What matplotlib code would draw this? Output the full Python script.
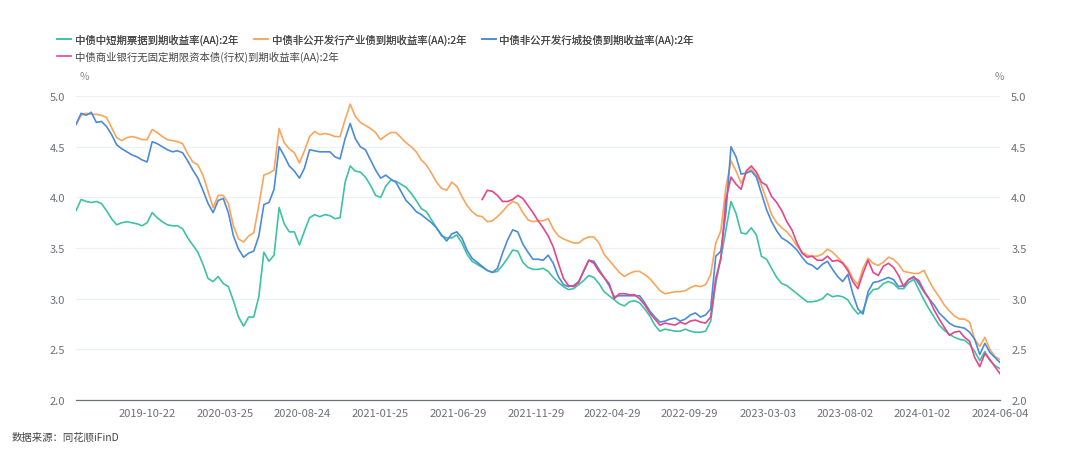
import matplotlib
matplotlib.use('Agg')
import matplotlib.pyplot as plt
import pandas as pd

plt.rcParams['font.family'] = ['Noto Sans CJK SC', 'DejaVu Sans']

# 日期（约10天一个点）
dates = pd.date_range('2019-06-04', '2024-06-04', periods=183)

names = ['中债中短期票据到期收益率(AA):2年',
         '中债非公开发行产业债到期收益率(AA):2年',
         '中债非公开发行城投债到期收益率(AA):2年',
         '中债商业银行无固定期限资本债(行权)到期收益率(AA):2年']

teal = [3.87, 3.98, 3.96, 3.95, 3.96, 3.94, 3.87, 3.79, 3.73, 3.75,
        3.76, 3.75, 3.74, 3.72, 3.75, 3.85, 3.80, 3.76, 3.73, 3.72,
        3.72, 3.69, 3.60, 3.53, 3.46, 3.34, 3.20, 3.17, 3.22, 3.15,
        3.12, 2.98, 2.82, 2.73, 2.82, 2.82, 3.02, 3.46, 3.37, 3.43,
        3.90, 3.74, 3.66, 3.66, 3.53, 3.67, 3.80, 3.83, 3.81, 3.83,
        3.82, 3.79, 3.80, 4.15, 4.31, 4.26, 4.25, 4.20, 4.12, 4.02,
        4.00, 4.11, 4.17, 4.16, 4.13, 4.10, 4.04, 3.97, 3.89, 3.86,
        3.78, 3.70, 3.62, 3.60, 3.60, 3.63, 3.55, 3.44, 3.37, 3.34,
        3.31, 3.28, 3.26, 3.27, 3.33, 3.40, 3.48, 3.47, 3.36, 3.31,
        3.29, 3.29, 3.30, 3.27, 3.21, 3.16, 3.12, 3.09, 3.10, 3.14,
        3.18, 3.23, 3.21, 3.15, 3.07, 3.03, 2.99, 2.95, 2.93, 2.97,
        2.98, 2.96, 2.90, 2.83, 2.74, 2.68, 2.70, 2.69, 2.68, 2.68,
        2.70, 2.68, 2.67, 2.67, 2.68, 2.78, 3.15, 3.40, 3.68, 3.96,
        3.84, 3.65, 3.64, 3.70, 3.63, 3.42, 3.39, 3.30, 3.21, 3.15,
        3.13, 3.09, 3.05, 3.01, 2.97, 2.97, 2.98, 3.00, 3.05, 3.02,
        3.03, 3.02, 2.99, 2.91, 2.85, 2.88, 3.03, 3.09, 3.10, 3.15,
        3.17, 3.15, 3.10, 3.10, 3.16, 3.19, 3.09, 2.99, 2.90, 2.82,
        2.74, 2.69, 2.65, 2.62, 2.60, 2.59, 2.55, 2.48, 2.39, 2.48,
        2.39, 2.34, 2.31]

orange = [4.72, 4.81, 4.83, 4.82, 4.82, 4.81, 4.79, 4.69, 4.59, 4.56,
          4.59, 4.60, 4.59, 4.57, 4.57, 4.67, 4.64, 4.60, 4.57, 4.56,
          4.55, 4.53, 4.43, 4.35, 4.32, 4.22, 4.06, 3.90, 4.02, 4.02,
          3.94, 3.72, 3.59, 3.56, 3.62, 3.65, 3.92, 4.22, 4.24, 4.27,
          4.68, 4.54, 4.48, 4.44, 4.34, 4.46, 4.60, 4.65, 4.62, 4.63,
          4.62, 4.60, 4.60, 4.77, 4.92, 4.80, 4.74, 4.71, 4.68, 4.64,
          4.57, 4.61, 4.64, 4.64, 4.59, 4.54, 4.50, 4.45, 4.37, 4.32,
          4.24, 4.15, 4.09, 4.07, 4.15, 4.11, 4.01, 3.92, 3.86, 3.82,
          3.81, 3.76, 3.77, 3.81, 3.86, 3.92, 3.96, 3.94, 3.85, 3.78,
          3.76, 3.77, 3.77, 3.79, 3.69, 3.62, 3.59, 3.57, 3.55, 3.55,
          3.59, 3.61, 3.61, 3.55, 3.44, 3.38, 3.32, 3.26, 3.22, 3.25,
          3.27, 3.27, 3.24, 3.20, 3.14, 3.08, 3.05, 3.06, 3.07, 3.07,
          3.08, 3.11, 3.13, 3.12, 3.14, 3.24, 3.55, 3.67, 4.10, 4.36,
          4.26, 4.14, 4.24, 4.28, 4.22, 4.12, 3.98, 3.83, 3.75, 3.70,
          3.66, 3.60, 3.52, 3.46, 3.43, 3.42, 3.42, 3.44, 3.49, 3.46,
          3.41, 3.36, 3.30, 3.20, 3.14, 3.30, 3.40, 3.35, 3.33, 3.36,
          3.41, 3.39, 3.34, 3.27, 3.26, 3.25, 3.25, 3.28, 3.18, 3.09,
          3.02, 2.94, 2.88, 2.83, 2.80, 2.80, 2.77, 2.60, 2.53, 2.62,
          2.50, 2.43, 2.40]

blue = [4.72, 4.83, 4.81, 4.84, 4.74, 4.75, 4.70, 4.62, 4.52, 4.48,
        4.45, 4.42, 4.40, 4.37, 4.35, 4.55, 4.53, 4.50, 4.47, 4.45,
        4.46, 4.44, 4.36, 4.27, 4.19, 4.07, 3.94, 3.85, 3.97, 3.99,
        3.85, 3.62, 3.49, 3.41, 3.45, 3.47, 3.62, 3.93, 3.95, 4.08,
        4.50, 4.41, 4.31, 4.26, 4.19, 4.29, 4.47, 4.46, 4.45, 4.45,
        4.45, 4.40, 4.38, 4.58, 4.73, 4.58, 4.50, 4.47, 4.37, 4.27,
        4.19, 4.22, 4.18, 4.15, 4.06, 3.97, 3.92, 3.86, 3.83, 3.79,
        3.75, 3.70, 3.63, 3.57, 3.64, 3.66, 3.60, 3.48, 3.40, 3.36,
        3.32, 3.28, 3.26, 3.30, 3.45, 3.58, 3.68, 3.66, 3.54, 3.46,
        3.39, 3.39, 3.38, 3.43, 3.35, 3.22, 3.14, 3.12, 3.13, 3.17,
        3.27, 3.38, 3.37, 3.29, 3.21, 3.13, 3.02, 3.03, 3.03, 3.03,
        3.03, 3.03, 2.96, 2.88, 2.82, 2.77, 2.78, 2.80, 2.81, 2.78,
        2.80, 2.84, 2.86, 2.82, 2.84, 2.90, 3.42, 3.47, 3.85, 4.50,
        4.40, 4.23, 4.24, 4.26, 4.20, 4.04, 3.88, 3.76, 3.67, 3.60,
        3.57, 3.53, 3.48, 3.41, 3.35, 3.33, 3.29, 3.34, 3.37, 3.29,
        3.22, 3.17, 3.24, 3.05, 2.90, 2.85, 3.07, 3.16, 3.17, 3.19,
        3.21, 3.19, 3.12, 3.13, 3.19, 3.22, 3.15, 3.07, 3.00, 2.94,
        2.86, 2.81, 2.76, 2.73, 2.72, 2.71, 2.67, 2.60, 2.45, 2.56,
        2.47, 2.42, 2.37]

# 永续债数据从2021年8月开始
pink_dates = dates[80:]
pink = [3.98, 4.07, 4.06, 4.02, 3.96, 3.96, 3.98, 4.02, 3.99, 3.92,
        3.85, 3.77, 3.70, 3.62, 3.51, 3.35, 3.20, 3.13, 3.12, 3.16,
        3.28, 3.38, 3.35, 3.27, 3.21, 3.15, 3.00, 3.05, 3.05, 3.04,
        3.04, 3.00, 2.94, 2.86, 2.80, 2.74, 2.76, 2.75, 2.74, 2.77,
        2.75, 2.78, 2.79, 2.77, 2.76, 2.82, 3.20, 3.40, 3.98, 4.20,
        4.13, 4.08, 4.26, 4.31, 4.25, 4.15, 4.12, 4.01, 3.95, 3.87,
        3.76, 3.68, 3.55, 3.45, 3.41, 3.42, 3.38, 3.38, 3.42, 3.37,
        3.38, 3.35, 3.28, 3.17, 3.10, 3.25, 3.38, 3.26, 3.23, 3.32,
        3.35, 3.31, 3.23, 3.12, 3.19, 3.21, 3.18, 3.08, 3.00, 2.89,
        2.80, 2.72, 2.64, 2.67, 2.68, 2.62, 2.58, 2.42, 2.33, 2.46,
        2.40, 2.33, 2.26]

xtick_labels = ['2019-10-22', '2020-03-25', '2020-08-24', '2021-01-25',
                '2021-06-29', '2021-11-29', '2022-04-29', '2022-09-29',
                '2023-03-03', '2023-08-02', '2024-01-02', '2024-06-04']
yticks = [2.0, 2.5, 3.0, 3.5, 4.0, 4.5, 5.0]

colors = ['#3fc1a5', '#f7a65d', '#4b8bd9', '#e2478a']

fig = plt.figure(figsize=(10.8, 4.6), dpi=100)
ax = fig.add_axes([0.0704, 0.128, 0.8556, 0.661])

lines = []
lines += ax.plot(dates, teal, color=colors[0], lw=1.2, label=names[0])
lines += ax.plot(dates, orange, color=colors[1], lw=1.2, label=names[1])
lines += ax.plot(dates, blue, color=colors[2], lw=1.2, label=names[2])
lines += ax.plot(pink_dates, pink, color=colors[3], lw=1.2, label=names[3])

ax.set_xlim(pd.Timestamp('2019-06-04'), pd.Timestamp('2024-06-04'))
ax.set_ylim(2.0, 5.0)
ax.set_yticks(yticks)
ax.set_yticklabels(['%.1f' % v for v in yticks])
ax.set_xticks([pd.Timestamp(s) for s in xtick_labels])
ax.set_xticklabels(xtick_labels)
ax.tick_params(axis='both', length=0, labelsize=8, colors='#6e7079')
ax.tick_params(axis='y', labelright=True, pad=8)
ax.tick_params(axis='x', pad=6)
ax.grid(axis='y', color='#eef0f6', lw=0.9)
ax.set_axisbelow(True)
for s in ['top', 'left', 'right']:
    ax.spines[s].set_visible(False)
ax.spines['bottom'].set_color('#6e7079')
ax.spines['bottom'].set_linewidth(0.9)

# 图例：第一行三项，第二行一项
leg_kw = dict(frameon=False, fontsize=7.5, handlelength=1.35, handletextpad=0.35,
              columnspacing=1.5, borderpad=0, borderaxespad=0, labelcolor='#464646',
              loc='center left')
leg1 = fig.legend(lines[:3], names[:3], ncol=3, bbox_to_anchor=(0.053, 0.913), **leg_kw)
fig.add_artist(leg1)
fig.legend(lines[3:], names[3:], ncol=1, bbox_to_anchor=(0.053, 0.876), **leg_kw)

fig.text(0.074, 1 - 77 / 460, '%', fontsize=7.5, color='#8a8a8a', va='center')
fig.text(0.921, 1 - 77 / 460, '%', fontsize=7.5, color='#8a8a8a', va='center')
fig.text(0.011, 1 - 438 / 460, '数据来源：同花顺iFinD', fontsize=7.5, color='#464646', va='center')

fig.savefig('out.png', dpi=100)
